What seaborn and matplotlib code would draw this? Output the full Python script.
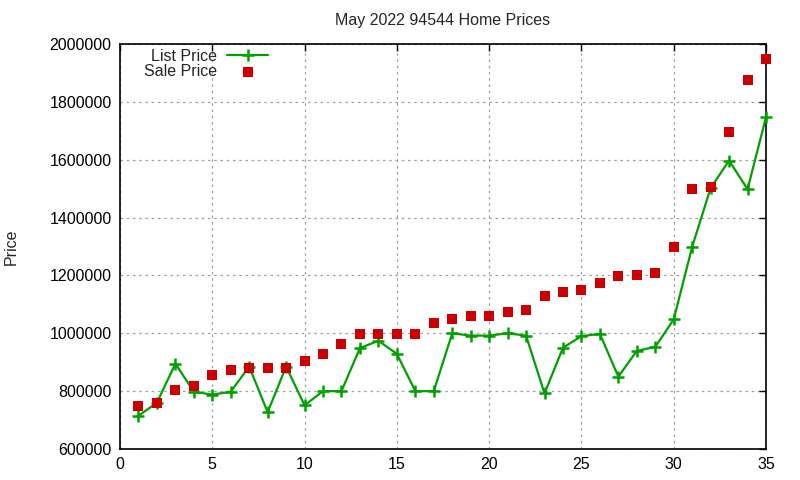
import matplotlib
matplotlib.use("Agg")
import matplotlib.pyplot as plt
import seaborn as sns
import pandas as pd
from matplotlib.ticker import MultipleLocator, FuncFormatter

x = list(range(1, 36))
list_price = [715000, 760000, 895000, 798000, 788000, 798000, 885000, 727000, 885000, 751000,
              800000, 800000, 949000, 974000, 929000, 800000, 800000, 1000000, 992000, 992000,
              1000000, 992000, 792000, 950000, 990000, 998000, 850000, 939000, 953000, 1048000,
              1299000, 1502000, 1597000, 1498000, 1747000]
sale_price = [750000, 760000, 804000, 818000, 856000, 873000, 881000, 881000, 881000, 905000,
              929000, 964000, 998000, 998000, 998000, 998000, 1036000, 1049000, 1061000, 1061000,
              1074000, 1080000, 1130000, 1144000, 1151000, 1175000, 1198000, 1203000, 1209000, 1299000,
              1500000, 1506000, 1697000, 1876000, 1949000]

df = pd.DataFrame({"n": x, "list": list_price, "sale": sale_price})

sns.set_style("white")
plt.rcParams["font.family"] = ["Liberation Sans", "DejaVu Sans"]

fig = plt.figure(figsize=(8, 4.8), dpi=100)
ax = fig.add_axes([0.15, 0.0646, 0.8075, 0.8437])

green = "#00a000"
red = "#cc0000"

sns.lineplot(data=df, x="n", y="list", ax=ax, color=green, linewidth=1.6,
             marker="+", markersize=8, markeredgewidth=1.8, markeredgecolor=green,
             label="List Price", zorder=3, clip_on=False)
sns.scatterplot(data=df, x="n", y="sale", ax=ax, color=red, marker="s", s=55,
                linewidth=0, label="Sale Price", zorder=4, clip_on=False)

ax.set_xlim(0, 35)
ax.set_ylim(600000, 2000000)
ax.xaxis.set_major_locator(MultipleLocator(5))
ax.yaxis.set_major_locator(MultipleLocator(200000))
ax.yaxis.set_major_formatter(FuncFormatter(lambda v, p: f"{int(v)}"))
ax.grid(True, color="#a0a0a0", linestyle=(0, (2, 3)), linewidth=0.9)
ax.tick_params(direction="in", length=5, width=1, top=True, right=True,
               labelsize=11.5, colors="black", pad=6)
for s in ax.spines.values():
    s.set_color("black")
    s.set_linewidth(1.2)
    s.set_zorder(2)

ax.set_xlabel("")
ax.set_ylabel("Price", fontsize=11.5, labelpad=22)
ax.set_title("May 2022 94544 Home Prices", fontsize=11.5, pad=14)

leg = ax.legend(loc="upper left", bbox_to_anchor=(0.015, 1.024), frameon=False,
                markerfirst=False, fontsize=11.5, handlelength=2.6,
                labelspacing=0.05, handletextpad=0.6)
for t in leg.get_texts():
    t.set_ha("right")
leg._legend_box.align = "right"

fig.savefig("out.png", dpi=100)
